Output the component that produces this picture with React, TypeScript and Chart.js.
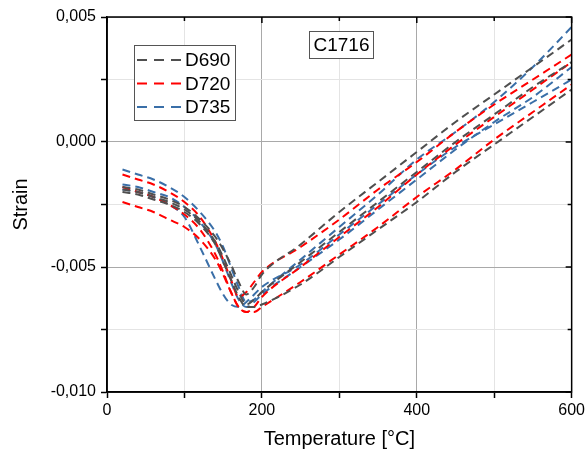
import React, { useEffect, useRef } from 'react';
import { Chart, registerables } from 'chart.js';

Chart.register(...registerables);

// ---- data ----
const temperatures = [20, 40, 60, 80, 100, 120, 140, 150, 160, 170, 180, 190, 200, 250, 300, 350, 400, 450, 500, 550, 600];

const d690_1 = [-0.0018, -0.0019, -0.0021, -0.0023, -0.0026, -0.0031, -0.0038, -0.0043, -0.0049, -0.0056, -0.0061, -0.0058, -0.0053, -0.0041, -0.0028, -0.0016, -0.0004, 0.0008, 0.0019, 0.0030, 0.0041];
const d690_2 = [-0.0019, -0.0020, -0.0022, -0.0024, -0.0027, -0.0032, -0.0040, -0.0046, -0.0053, -0.0060, -0.0065, -0.0063, -0.0060, -0.0048, -0.0036, -0.0024, -0.0012, 0.0000, 0.0011, 0.0022, 0.0032];
const d690_3 = [-0.0020, -0.0021, -0.0023, -0.0025, -0.0028, -0.0033, -0.0041, -0.0048, -0.0055, -0.0062, -0.0066, -0.0066, -0.0065, -0.0057, -0.0046, -0.0035, -0.0024, -0.0012, -0.0001, 0.0010, 0.0021];

const d720_1 = [-0.0013, -0.0015, -0.0017, -0.0020, -0.0024, -0.0030, -0.0040, -0.0047, -0.0055, -0.0062, -0.0060, -0.0056, -0.0052, -0.0042, -0.0031, -0.0019, -0.0008, 0.0004, 0.0015, 0.0025, 0.0035];
const d720_2 = [-0.0018, -0.0020, -0.0022, -0.0025, -0.0029, -0.0035, -0.0045, -0.0052, -0.0060, -0.0066, -0.0068, -0.0066, -0.0062, -0.0050, -0.0038, -0.0026, -0.0013, -0.0001, 0.0010, 0.0021, 0.0032];
const d720_3 = [-0.0024, -0.0026, -0.0028, -0.0031, -0.0034, -0.0039, -0.0047, -0.0053, -0.0060, -0.0066, -0.0068, -0.0068, -0.0066, -0.0056, -0.0045, -0.0034, -0.0022, -0.0011, 0.0001, 0.0012, 0.0023];

const d735_1 = [-0.0011, -0.0013, -0.0015, -0.0018, -0.0022, -0.0028, -0.0036, -0.0042, -0.0050, -0.0058, -0.0064, -0.0063, -0.0060, -0.0047, -0.0034, -0.0021, -0.0007, 0.0004, 0.0016, 0.0030, 0.0046];
const d735_2 = [-0.0017, -0.0018, -0.0020, -0.0022, -0.0026, -0.0032, -0.0041, -0.0048, -0.0056, -0.0063, -0.0066, -0.0064, -0.0061, -0.0050, -0.0039, -0.0027, -0.0015, -0.0003, 0.0008, 0.0018, 0.0030];
const d735_3 = [-0.0019, -0.0020, -0.0022, -0.0025, -0.0030, -0.0042, -0.0055, -0.0061, -0.0065, -0.0066, -0.0064, -0.0061, -0.0058, -0.0049, -0.0037, -0.0025, -0.0013, -0.0002, 0.0007, 0.0016, 0.0025];

const seriesNames = ['D690', 'D720', 'D735'];
const seriesColors = ['#4f4f4f', '#ff0000', '#3a6fa8'];
const seriesCurves = [
  [d690_1, d690_2, d690_3],
  [d720_1, d720_2, d720_3],
  [d735_1, d735_2, d735_3],
];
const sampleLabel = 'C1716';
const xTitle = 'Temperature [°C]';
const yTitle = 'Strain';

const FONT = '"Liberation Sans", Arial, sans-serif';

const isMajorY = (v: number) => Math.abs(Math.round(v / 0.005) * 0.005 - v) < 1e-9;
const fmtY = (v: number) => {
  if (Math.abs(v) < 1e-9) return '0,000';
  return v.toFixed(3).replace('.', ',');
};

const overlayPlugin = {
  id: 'overlay',
  afterDraw(chart: any) {
    const { ctx, chartArea: a, scales } = chart;
    const x = scales.x;
    const y = scales.y;
    ctx.save();
    // frame
    ctx.strokeStyle = '#000';
    ctx.lineWidth = 1.5;
    ctx.setLineDash([]);
    ctx.strokeRect(a.left, a.top, a.right - a.left, a.bottom - a.top);
    // inward ticks on top and right
    ctx.beginPath();
    x.ticks.forEach((t: any) => {
      const px = x.getPixelForValue(t.value);
      const len = t.value % 200 === 0 ? 6 : 4;
      ctx.moveTo(px, a.top);
      ctx.lineTo(px, a.top + len);
    });
    y.ticks.forEach((t: any) => {
      const py = y.getPixelForValue(t.value);
      const len = isMajorY(t.value) ? 6 : 4;
      ctx.moveTo(a.right, py);
      ctx.lineTo(a.right - len, py);
    });
    ctx.stroke();

    // legend box
    const lx = a.left + 27;
    const ly = a.top + 28;
    const lw = 101;
    const lh = 75;
    ctx.fillStyle = '#fff';
    ctx.fillRect(lx, ly, lw, lh);
    ctx.strokeStyle = '#555';
    ctx.lineWidth = 1;
    ctx.strokeRect(lx + 0.5, ly + 0.5, lw, lh);
    ctx.font = `19px ${FONT}`;
    ctx.textBaseline = 'middle';
    ctx.textAlign = 'left';
    seriesNames.forEach((name, i) => {
      const ry = ly + 15 + i * 23.5;
      ctx.strokeStyle = seriesColors[i];
      ctx.lineWidth = 2;
      ctx.setLineDash([10, 7]);
      ctx.beginPath();
      ctx.moveTo(lx + 3, ry);
      ctx.lineTo(lx + 47, ry);
      ctx.stroke();
      ctx.setLineDash([]);
      ctx.fillStyle = '#000';
      ctx.fillText(name, lx + 51, ry + 1);
    });

    // sample label box
    const bx = a.left + 202;
    const by = a.top + 14;
    const bw = 64;
    const bh = 27;
    ctx.fillStyle = '#fff';
    ctx.fillRect(bx, by, bw, bh);
    ctx.strokeStyle = '#555';
    ctx.lineWidth = 1;
    ctx.strokeRect(bx + 0.5, by + 0.5, bw, bh);
    ctx.fillStyle = '#000';
    ctx.textAlign = 'center';
    ctx.fillText(sampleLabel, bx + bw / 2 + 0.5, by + bh / 2 + 1);
    ctx.restore();
  },
};

export default function App() {
  const canvasRef = useRef<HTMLCanvasElement | null>(null);

  useEffect(() => {
    document.body.style.margin = '0';
    const canvas = canvasRef.current;
    if (!canvas) return;
    Chart.defaults.font.family = FONT;
    Chart.defaults.color = '#000';

    const datasets: any[] = [];
    seriesCurves.forEach((curves, si) => {
      curves.forEach((vals, ci) => {
        datasets.push({
          label: `${seriesNames[si]}-${ci + 1}`,
          data: temperatures.map((t, k) => ({ x: t, y: vals[k] })),
          borderColor: seriesColors[si],
          backgroundColor: seriesColors[si],
          borderWidth: 2,
          borderDash: [8, 5],
          pointRadius: 0,
          fill: false,
          cubicInterpolationMode: 'monotone',
        });
      });
    });

    const chart = new Chart(canvas, {
      type: 'line',
      data: { datasets },
      plugins: [overlayPlugin],
      options: {
        animation: false,
        responsive: false,
        devicePixelRatio: 1,
        layout: { padding: { left: 0, right: 16, top: 17, bottom: 0 } },
        plugins: {
          legend: { display: false },
          tooltip: { enabled: false },
        },
        scales: {
          x: {
            type: 'linear',
            min: 0,
            max: 600,
            ticks: {
              stepSize: 100,
              padding: 3,
              color: '#000',
              font: { size: 16, family: FONT },
              maxRotation: 0,
              autoSkip: false,
              callback: (v: any) => (Number(v) % 200 === 0 ? String(v) : ''),
            },
            grid: {
              color: (c: any) => (c.tick && c.tick.value % 200 === 0 ? '#a9a9a9' : '#e4e4e4'),
              lineWidth: 1,
              drawTicks: true,
              tickLength: 6,
              tickColor: '#000',
              tickWidth: 1.5,
            },
            border: { display: true, color: '#000', width: 1.5 },
            title: {
              display: true,
              text: xTitle,
              color: '#000',
              font: { size: 20, family: FONT },
              padding: { top: 0, bottom: 0 },
            },
            afterFit: (s: any) => {
              s.height = 59;
            },
          },
          y: {
            type: 'linear',
            min: -0.01,
            max: 0.005,
            ticks: {
              stepSize: 0.0025,
              padding: 5,
              color: '#000',
              font: { size: 16, family: FONT },
              autoSkip: false,
              callback: (v: any) => (isMajorY(Number(v)) ? fmtY(Number(v)) : ''),
            },
            grid: {
              color: (c: any) => (c.tick && isMajorY(c.tick.value) ? '#a9a9a9' : '#e4e4e4'),
              lineWidth: 1,
              drawTicks: true,
              tickLength: 6,
              tickColor: '#000',
              tickWidth: 1.5,
            },
            border: { display: true, color: '#000', width: 1.5 },
            title: {
              display: true,
              text: yTitle,
              color: '#000',
              font: { size: 20, family: FONT },
              padding: { top: 9, bottom: 0 },
            },
            afterFit: (s: any) => {
              s.width = 107;
            },
          },
        },
      },
    });
    return () => chart.destroy();
  }, []);

  return (
    <div style={{ width: 588, height: 451, position: 'relative' }}>
      <canvas ref={canvasRef} width={588} height={451} />
    </div>
  );
}
